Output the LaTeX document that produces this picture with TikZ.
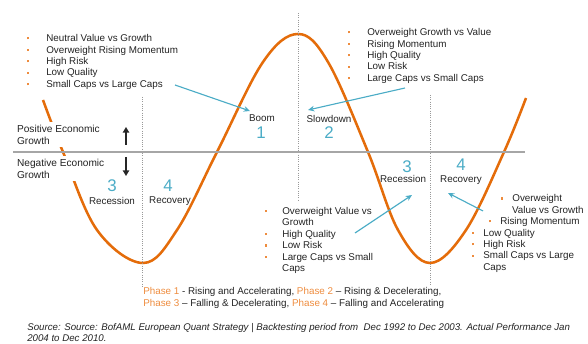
\documentclass[tikz,border=0pt]{standalone}
\usepackage{fontspec}
\setmainfont{Liberation Sans}
\usetikzlibrary{arrows.meta}

\definecolor{cycleorange}{RGB}{228,108,10}
\definecolor{phaseorange}{RGB}{238,140,62}
\definecolor{cycleblue}{RGB}{75,172,198}
\definecolor{txtgray}{RGB}{35,35,35}

% bullet piccolo arancione + spazio prima del testo
\newcommand{\bul}[1][12pt]{\textcolor{phaseorange}{\rule[0.22em]{1.5pt}{1.5pt}}\hspace*{#1}}

\begin{document}
\begin{tikzpicture}[
  txt/.style={font=\fontsize{7}{8.15}\selectfont, text=txtgray, inner sep=0pt},
  bullist/.style={txt, align=left, anchor=west},
  phasenum/.style={font=\fontsize{12}{12}\selectfont, text=cycleblue, inner sep=0pt},
  dotline/.style={gray!80, densely dotted, line width=0.6pt},
  bluearrow/.style={cycleblue, line width=0.8pt, -{Stealth[length=4.5pt, width=4pt]}},
  blackarrow/.style={black!85, line width=1.4pt, -{Triangle[length=4pt, width=4.5pt]}}
]
  \useasboundingbox (0,0) rectangle (14.7,8.575);

  % === CICLO ECONOMICO ===
  \draw[cycleorange, line width=1.8pt] plot[smooth, tension=0.6] coordinates {
    (1.075,6.075) (1.575,4.775) (2.425,2.825) (3.575,2.0) (4.425,2.825)
    (5.425,4.775) (6.575,7.025) (7.45,7.725) (8.2,7.025) (9.2,4.775)
    (9.95,2.825) (10.75,2.0) (11.65,2.825) (12.6,4.775) (13.15,6.125)};

  % Linee verticali tra le fasi
  \draw[dotline] (3.55,6.15) -- (3.55,1.4);
  \draw[dotline] (7.45,8.25) -- (7.45,3.575);
  \draw[dotline] (10.75,6.2) -- (10.75,1.45);

  % Crescita positiva / negativa
  \node[txt, align=left, anchor=west, fill=white, inner sep=2pt, font=\fontsize{7.2}{8.6}\selectfont] (posgrowth) at (0.35,5.2125) {Positive Economic\\Growth};
  \node[txt, align=left, anchor=west, fill=white, inner sep=2pt, font=\fontsize{7.2}{8.6}\selectfont] (neggrowth) at (0.35,4.3625) {Negative Economic\\Growth};
  \draw[gray!70, line width=0.8pt] (0.33,4.775) -- (13.125,4.775);

  \coordinate (upfoot) at (3.15,4.95);
  \coordinate (uptip) at (3.15,5.4);
  \coordinate (downfoot) at (3.15,4.65);
  \coordinate (downtip) at (3.15,4.175);
  \draw[blackarrow] (upfoot) -- (uptip);
  \draw[blackarrow] (downfoot) -- (downtip);

  % Fasi
  \node[txt] (boom) at (6.55,5.625) {Boom};
  \node[phasenum] (num1) at (6.525,5.25) {1};
  \node[txt] (slow) at (8.225,5.6) {Slowdown};
  \node[phasenum] (num2) at (8.225,5.25) {2};
  \node[phasenum] (num3l) at (2.8,3.93) {3};
  \node[txt] (recessl) at (2.8,3.55) {Recession};
  \node[phasenum] (num4l) at (4.2,3.93) {4};
  \node[txt] (recovl) at (4.25,3.54) {Recovery};
  \node[phasenum] (num3r) at (10.175,4.42) {3};
  \node[txt] (recessr) at (10.075,4.1) {Recession};
  \node[phasenum] (num4r) at (11.525,4.47) {4};
  \node[txt] (recovr) at (11.525,4.07) {Recovery};

  % === LISTE DEI FATTORI ===
  \node[bullist] (boomlist) at (0.675,7.025) {\bul Neutral Value vs Growth\\
    \bul Overweight Rising Momentum\\ \bul High Risk\\ \bul Low Quality\\
    \bul Small Caps vs Large Caps};
  \node[bullist] (slowlist) at (8.7,7.175) {\bul Overweight Growth vs Value\\
    \bul Rising Momentum\\ \bul High Quality\\ \bul Low Risk\\
    \bul Large Caps vs Small Caps};
  \node[bullist] (recesslist) at (6.625,2.5625) {\bul[10.6pt]Overweight Value vs\\
    \hspace*{12pt}Growth\\ \bul[10.6pt]High Quality\\ \bul[10.6pt]Low Risk\\
    \bul[10.6pt]Large Caps vs Small\\ \hspace*{12pt}Caps};
  \node[bullist] (recovlist) at (11.8,2.7375) {\hspace*{20.6pt}\bul[6.4pt]Overweight\\
    \hspace*{28.3pt}Value vs Growth\\ \hspace*{12pt}\bul[6.4pt]Rising Momentum\\
    \bul[6.4pt]Low Quality\\ \bul[6.4pt]High Risk\\
    \bul[6.4pt]Small Caps vs Large\\ \hspace*{7.8pt}Caps};

  % Frecce verso le fasi
  \coordinate (boomfrom) at (4.375,6.45);
  \coordinate (boomto) at (6.25,5.8);
  \coordinate (slowfrom) at (10.125,6.375);
  \coordinate (slowto) at (7.7,5.825);
  \coordinate (recessfrom) at (8.875,2.75);
  \coordinate (recessto) at (10.3,3.7);
  \coordinate (recovfrom) at (12.075,3.3);
  \coordinate (recovto) at (11.2,3.75);
  \draw[bluearrow] (boomfrom) -- (boomto);
  \draw[bluearrow] (slowfrom) -- (slowto);
  \draw[bluearrow] (recessfrom) -- (recessto);
  \draw[bluearrow] (recovfrom) -- (recovto);

  % Legenda e fonte
  \node[txt, align=left, anchor=west, font=\fontsize{7}{8.5}\selectfont] (phases) at (3.575,1.125) {\textcolor{phaseorange}{Phase 1} - Rising and Accelerating, \textcolor{phaseorange}{Phase 2} – Rising \& Decelerating,\\
    \textcolor{phaseorange}{Phase 3} – Falling \& Decelerating, \textcolor{phaseorange}{Phase 4} – Falling and Accelerating};
  \node[txt, align=left, anchor=west, font=\fontsize{6.9}{7.8}\selectfont\itshape] (source) at (0.675,0.2625) {Source: Source: BofAML European Quant Strategy | Backtesting period from~ Dec 1992 to Dec 2003. Actual Performance Jan\\
    2004 to Dec 2010.};
\end{tikzpicture}
\end{document}
